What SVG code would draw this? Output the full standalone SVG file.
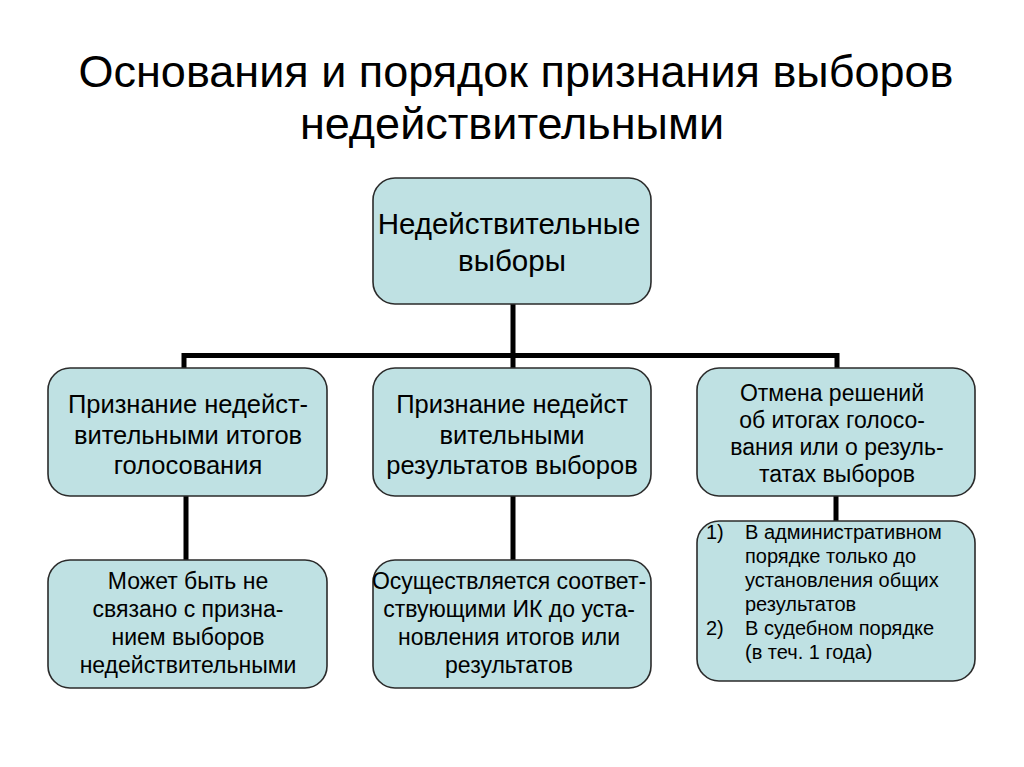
<svg xmlns="http://www.w3.org/2000/svg" width="1024" height="767" viewBox="0 0 1024 767">
<style>
.box{fill:#bfe1e3;stroke:#2b2b2b;stroke-width:1.6}
.t{font-family:"Liberation Sans",Arial,sans-serif;fill:#000;text-anchor:middle}
.title{font-size:45px}
.c{stroke:#000;stroke-width:5;fill:none}
</style>
<rect width="1024" height="767" fill="#fff"/>
<g id="title" class="t title">
<text x="516" y="87">Основания и порядок признания выборов</text>
<text x="512" y="139">недействительными</text>
</g>
<g id="connectors">
<path class="c" d="M513 304V368M184 370V355.5H837V370"/>
<path class="c" d="M186 496V560M513 496V560M836 496V522"/>
</g>
<g id="root">
<rect class="box" x="373" y="178" width="278" height="126" rx="22"/>
<text class="t" font-size="29.5" x="509" y="234">Недействительные</text>
<text class="t" font-size="29.5" x="512" y="271">выборы</text>
</g>
<g id="n1">
<rect class="box" x="48" y="368" width="279" height="128" rx="22"/>
<text class="t" font-size="25.5" x="188" y="413">Признание недейст-</text>
<text class="t" font-size="25.5" x="188" y="444">вительными итогов</text>
<text class="t" font-size="25.5" x="188" y="474">голосования</text>
</g>
<g id="n2">
<rect class="box" x="373" y="368" width="278" height="128" rx="22"/>
<text class="t" font-size="25.5" x="512" y="413">Признание недейст</text>
<text class="t" font-size="25.5" x="512" y="444">вительными</text>
<text class="t" font-size="25.5" x="512" y="474">результатов выборов</text>
</g>
<g id="n3">
<rect class="box" x="697" y="368" width="278" height="128" rx="22"/>
<text class="t" font-size="23" x="832" y="401">Отмена решений</text>
<text class="t" font-size="23" x="832" y="428">об итогах голосо-</text>
<text class="t" font-size="23" x="837" y="455">вания или о резуль-</text>
<text class="t" font-size="23" x="837" y="482">татах выборов</text>
</g>
<g id="n4">
<rect class="box" x="48" y="560" width="279" height="128" rx="22"/>
<text class="t" font-size="23" x="188" y="589">Может быть не</text>
<text class="t" font-size="23" x="188" y="617">связано с призна-</text>
<text class="t" font-size="23" x="188" y="645">нием выборов</text>
<text class="t" font-size="23" x="188" y="673">недействительными</text>
</g>
<g id="n5">
<rect class="box" x="373" y="560" width="278" height="128" rx="22"/>
<text class="t" font-size="23" x="509" y="589">Осуществляется соответ-</text>
<text class="t" font-size="23" x="509" y="617">ствующими ИК до уста-</text>
<text class="t" font-size="23" x="509" y="645">новления итогов или</text>
<text class="t" font-size="23" x="509" y="673">результатов</text>
</g>
<g id="n6">
<rect class="box" x="697" y="521" width="278" height="160" rx="22"/>
<g class="t" font-size="20" style="text-anchor:start">
<text x="706" y="539">1)</text>
<text x="745" y="539">В административном</text>
<text x="745" y="563">порядке только до</text>
<text x="745" y="587">установления общих</text>
<text x="745" y="611">результатов</text>
<text x="706" y="635">2)</text>
<text x="745" y="635">В судебном порядке</text>
<text x="745" y="659">(в теч. 1 года)</text>
</g>
</g>
</svg>
